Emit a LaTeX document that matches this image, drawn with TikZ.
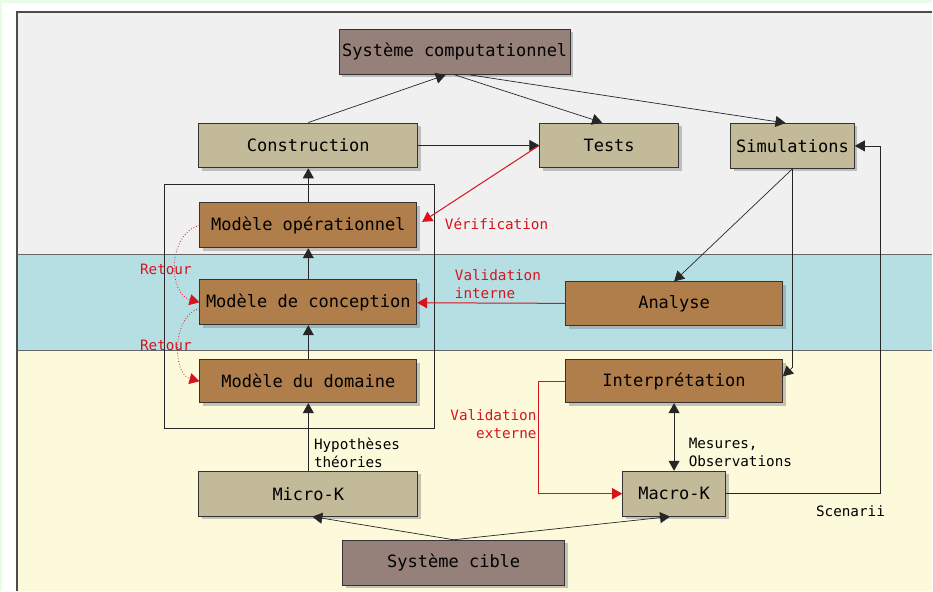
\documentclass[tikz,border=0pt]{standalone}
\usepackage{fontspec}
\setmonofont{DejaVu Sans Mono}
\usetikzlibrary{arrows.meta,shadows}
\definecolor{sysfill}{RGB}{149,129,122}
\definecolor{kfill}{RGB}{194,186,152}
\definecolor{modfill}{RGB}{176,126,74}
\definecolor{topband}{RGB}{240,240,240}
\definecolor{midband}{RGB}{182,223,227}
\definecolor{lowband}{RGB}{253,250,220}
\definecolor{rim}{RGB}{232,252,232}
\definecolor{valred}{RGB}{215,20,30}

\begin{document}
\begin{tikzpicture}[x=1pt,y=1pt,
   font=\ttfamily\fontsize{17}{20}\selectfont,
   box/.style={draw=black!80,line width=.8pt,inner sep=0pt,minimum height=45pt,
     drop shadow={shadow xshift=3pt,shadow yshift=-3pt,fill=black!45}},
   sysnode/.style={box,fill=sysfill},
   knode/.style={box,fill=kfill},
   modnode/.style={box,fill=modfill,minimum width=217pt},
   lbl/.style={font=\ttfamily\fontsize{14.3}{18}\selectfont,inner sep=0pt,align=left},
   redlbl/.style={lbl,text=valred},
   tip/.tip={Triangle[length=10pt,width=11pt]},
   link/.style={draw=black!85,line width=.7pt,-tip},
   dbl/.style={link,tip-tip},
   redlink/.style={draw=valred,line width=1pt,-tip},
   retourarc/.style={redlink,line width=.8pt,dotted}]
\fill[rim] (0,0) rectangle (933,-591);
\fill[white] (2,-3) rectangle (933,-591);
\fill[topband] (17,-12) rectangle (933,-255);
\fill[midband] (17,-255) rectangle (933,-351);
\fill[lowband] (17,-351) rectangle (933,-591);
\draw[black!70,line width=1.2pt] (933,-12) -- (17,-12) -- (17,-591);
\draw[black!60,line width=.8pt] (17,-255) -- (933,-255) (17,-351) -- (933,-351);
\draw[black!85,line width=.8pt] (165,-185) rectangle (435,-429);

\node[sysnode,minimum width=231pt] (syscomp) at (455,-52) {Système computationnel};
\node[knode,minimum width=219pt] (constr) at (308.5,-145.5) {Construction};
\node[knode,minimum width=139pt] (tests) at (609.5,-145.5) {Tests};
\node[knode,minimum width=124pt] (sim) at (793,-146) {Simulations};
\node[modnode] (mop) at (308.5,-225.5) {Modèle opérationnel};
\node[modnode] (mcon) at (308.5,-302.5) {Modèle de conception};
\node[modnode,minimum height=43pt] (mdom) at (308.5,-381.5) {Modèle du domaine};
\node[modnode,minimum height=44pt] (analyse) at (674.5,-304) {Analyse};
\node[modnode,minimum height=43pt] (interp) at (674.5,-381.5) {Interprétation};
\node[knode,minimum width=219pt] (micro) at (308.5,-494) {Micro-K};
\node[knode,minimum width=103pt] (macro) at (674.5,-494) {Macro-K};
\node[sysnode,minimum width=222pt] (cible) at (454,-563) {Système cible};

\draw[link] (constr.north) -- ([xshift=-9pt]syscomp.south);
\draw[link] (syscomp.south) -- ([xshift=-7pt]tests.north);
\draw[link] ([xshift=15pt]syscomp.south) -- ([xshift=-7pt]sim.north);
\draw[link] (constr) -- (tests);
\draw[link] (mop) -- (constr);
\draw[link] (mcon) -- (mop);
\draw[link] (mdom) -- (mcon);
\draw[link] (micro) -- (mdom);
\node[lbl,anchor=west] (hyp) at (314,-453) {Hypothèses\\théories};
\draw[link] (cible.north) -- ([xshift=4pt]micro.south);
\draw[link] (cible.north) -- ([xshift=-4pt]macro.south);
\draw[link] (sim.south) -- (analyse.north);
\coordinate (simdrop) at ([yshift=-8pt]sim.south |- interp.north);
\draw[link] (sim.south) -- (simdrop) -- ([yshift=-17pt]interp.north east);
\draw[dbl] (interp) -- (macro);
\node[lbl,anchor=west] (mes) at (689,-453) {Mesures,\\Observations};
\draw[link] (macro.east) -- ++(155,0) |- (sim.east);
\node[lbl] (scen) at (851,-511) {Scenarii};

\draw[redlink] (tests.west) -- ([xshift=5pt,yshift=3.5pt]mop.east);
\node[redlbl,anchor=west] (verif) at (445,-224) {Vérification};
\draw[redlink] (analyse) -- (mcon);
\node[redlbl,anchor=west] (valint) at (455,-284.5) {Validation\\interne};
\coordinate (extbend) at ([xshift=-26.5pt]interp.west);
\draw[valred,line width=1.1pt,-tip] (interp.west) -- (extbend) -- (extbend |- macro.west) -- (macro.west);
\node[redlbl,align=right,anchor=east] (valext) at (537,-424) {Validation\\externe};
\draw[retourarc] (mop.west) to[out=195,in=165,looseness=1.1] (mcon.west);
\draw[retourarc] ([yshift=-6pt]mcon.west) to[out=195,in=165] (mdom.west);
\node[redlbl] (ret1) at (166,-270) {Retour};
\node[redlbl] (ret2) at (166,-346) {Retour};
\end{tikzpicture}
\end{document}
